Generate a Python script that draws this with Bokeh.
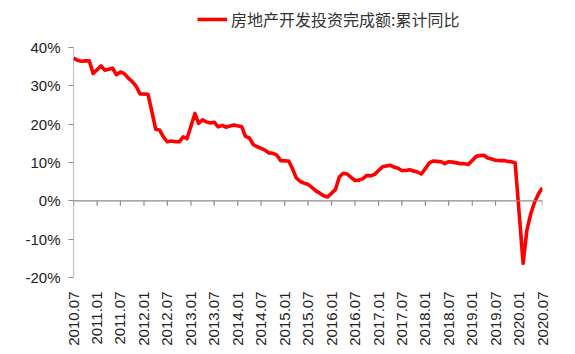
import math
import pandas as pd
from bokeh.plotting import figure
from bokeh.models import Range1d, FixedTicker, Span
from bokeh.embed import file_html
from bokeh.resources import INLINE

# Monthly cumulative YoY (%), Jan figures are not published (Jan-Feb combined)
months = [
    "2010-07", "2010-08", "2010-09", "2010-10", "2010-11", "2010-12",
    "2011-02", "2011-03", "2011-04", "2011-05", "2011-06", "2011-07", "2011-08", "2011-09", "2011-10", "2011-11", "2011-12",
    "2012-02", "2012-03", "2012-04", "2012-05", "2012-06", "2012-07", "2012-08", "2012-09", "2012-10", "2012-11", "2012-12",
    "2013-02", "2013-03", "2013-04", "2013-05", "2013-06", "2013-07", "2013-08", "2013-09", "2013-10", "2013-11", "2013-12",
    "2014-02", "2014-03", "2014-04", "2014-05", "2014-06", "2014-07", "2014-08", "2014-09", "2014-10", "2014-11", "2014-12",
    "2015-02", "2015-03", "2015-04", "2015-05", "2015-06", "2015-07", "2015-08", "2015-09", "2015-10", "2015-11", "2015-12",
    "2016-02", "2016-03", "2016-04", "2016-05", "2016-06", "2016-07", "2016-08", "2016-09", "2016-10", "2016-11", "2016-12",
    "2017-02", "2017-03", "2017-04", "2017-05", "2017-06", "2017-07", "2017-08", "2017-09", "2017-10", "2017-11", "2017-12",
    "2018-02", "2018-03", "2018-04", "2018-05", "2018-06", "2018-07", "2018-08", "2018-09", "2018-10", "2018-11", "2018-12",
    "2019-02", "2019-03", "2019-04", "2019-05", "2019-06", "2019-07", "2019-08", "2019-09", "2019-10", "2019-11", "2019-12",
    "2020-02", "2020-03", "2020-04", "2020-05", "2020-06", "2020-07",
]
yoy = [
    37.2, 36.7, 36.4, 36.5, 36.5, 33.2,
    35.2, 34.1, 34.3, 34.6, 32.9, 33.6, 33.2, 32.0, 31.1, 29.9, 27.9,
    27.8, 23.5, 18.7, 18.5, 16.6, 15.4, 15.6, 15.4, 15.4, 16.7, 16.2,
    22.8, 20.2, 21.1, 20.6, 20.3, 20.5, 19.3, 19.7, 19.2, 19.5, 19.8,
    19.3, 16.8, 16.4, 14.7, 14.1, 13.7, 13.2, 12.5, 12.4, 11.9, 10.5,
    10.4, 8.5, 6.0, 5.1, 4.6, 4.3, 3.5, 2.6, 2.0, 1.3, 1.0,
    3.0, 6.2, 7.2, 7.0, 6.1, 5.3, 5.4, 5.8, 6.6, 6.5, 6.9,
    8.9, 9.1, 9.3, 8.8, 8.5, 7.9, 7.9, 8.1, 7.8, 7.5, 7.0,
    9.9, 10.4, 10.3, 10.2, 9.7, 10.2, 10.1, 9.9, 9.7, 9.7, 9.5,
    11.6, 11.8, 11.9, 11.2, 10.9, 10.6, 10.5, 10.5, 10.3, 10.2, 9.9,
    -16.3, -7.7, -3.3, -0.3, 1.9, 3.4,
]
x_tick_labels = [
    "2010.07", "2011.01", "2011.07", "2012.01", "2012.07", "2013.01", "2013.07",
    "2014.01", "2014.07", "2015.01", "2015.07", "2016.01", "2016.07", "2017.01",
    "2017.07", "2018.01", "2018.07", "2019.01", "2019.07", "2020.01", "2020.07",
]
y_ticks = [-20, -10, 0, 10, 20, 30, 40]
y_tick_labels = ["-20%", "-10%", "0%", "10%", "20%", "30%", "40%"]
series_name = "房地产开发投资完成额:累计同比"

dates = pd.to_datetime(months, format="%Y-%m")
tick_dates = pd.to_datetime(x_tick_labels, format="%Y.%m")
tick_ms = [int(d.value // 10**6) for d in tick_dates]

# frame extends above 40% so the legend can sit inside it
p = figure(width=575, height=354, x_axis_type="datetime",
           output_backend="svg", toolbar_location=None,
           x_range=Range1d(tick_dates[0], tick_dates[-1]),
           y_range=Range1d(-20, 52.26),
           min_border_left=73, min_border_right=33,
           min_border_top=0, min_border_bottom=77)
p.outline_line_color = None
p.xgrid.grid_line_color = None
p.ygrid.grid_line_color = None
p.background_fill_color = "white"
p.border_fill_color = "white"

axis_gray = "#8c8c8c"
tick_font = "Liberation Sans"

# value axis line only from -20% to 40%
p.segment(x0=[tick_dates[0]], y0=[y_ticks[0]], x1=[tick_dates[0]], y1=[y_ticks[-1]],
          line_color=axis_gray, line_width=1.2)
# zero line acting as the category axis line, with its ticks
p.add_layout(Span(location=0, dimension="width", line_color=axis_gray, line_width=1.2))
p.segment(x0=tick_dates, y0=[0] * len(tick_dates), x1=tick_dates,
          y1=[-1.3] * len(tick_dates), line_color=axis_gray, line_width=1.2)

p.line(dates, yoy, line_color="#ff0000", line_width=3.6, line_join="round",
       legend_label=series_name)

lg = p.legend[0]
lg.location = (124, 246)
lg.padding = 0
lg.margin = 0
lg.border_line_alpha = 0
lg.background_fill_alpha = 0
lg.glyph_width = 30
lg.glyph_height = 20
lg.label_height = 20
lg.label_standoff = 4
lg.label_text_font = "Noto Sans CJK SC"
lg.label_text_font_size = "16px"
lg.label_text_color = "#333333"

xa = p.xaxis[0]
xa.ticker = FixedTicker(ticks=tick_ms)
xa.major_label_overrides = {t: lab for t, lab in zip(tick_ms, x_tick_labels)}
xa.major_label_orientation = math.pi / 2
xa.axis_line_color = None
xa.major_tick_line_color = None
xa.minor_tick_line_color = None
xa.major_label_text_font = tick_font
xa.major_label_text_font_size = "15px"
xa.major_label_text_color = "#222222"
xa.major_label_standoff = 8

ya = p.yaxis[0]
ya.ticker = FixedTicker(ticks=y_ticks)
ya.major_label_overrides = {t: lab for t, lab in zip(y_ticks, y_tick_labels)}
ya.axis_line_color = None
ya.major_tick_line_color = axis_gray
ya.major_tick_line_width = 1.2
ya.major_tick_out = 5
ya.major_tick_in = 0
ya.minor_tick_line_color = None
ya.major_label_text_font = tick_font
ya.major_label_text_font_size = "15px"
ya.major_label_text_color = "#222222"
ya.major_label_standoff = 8

open("out.html", "w").write(file_html(p, INLINE))
